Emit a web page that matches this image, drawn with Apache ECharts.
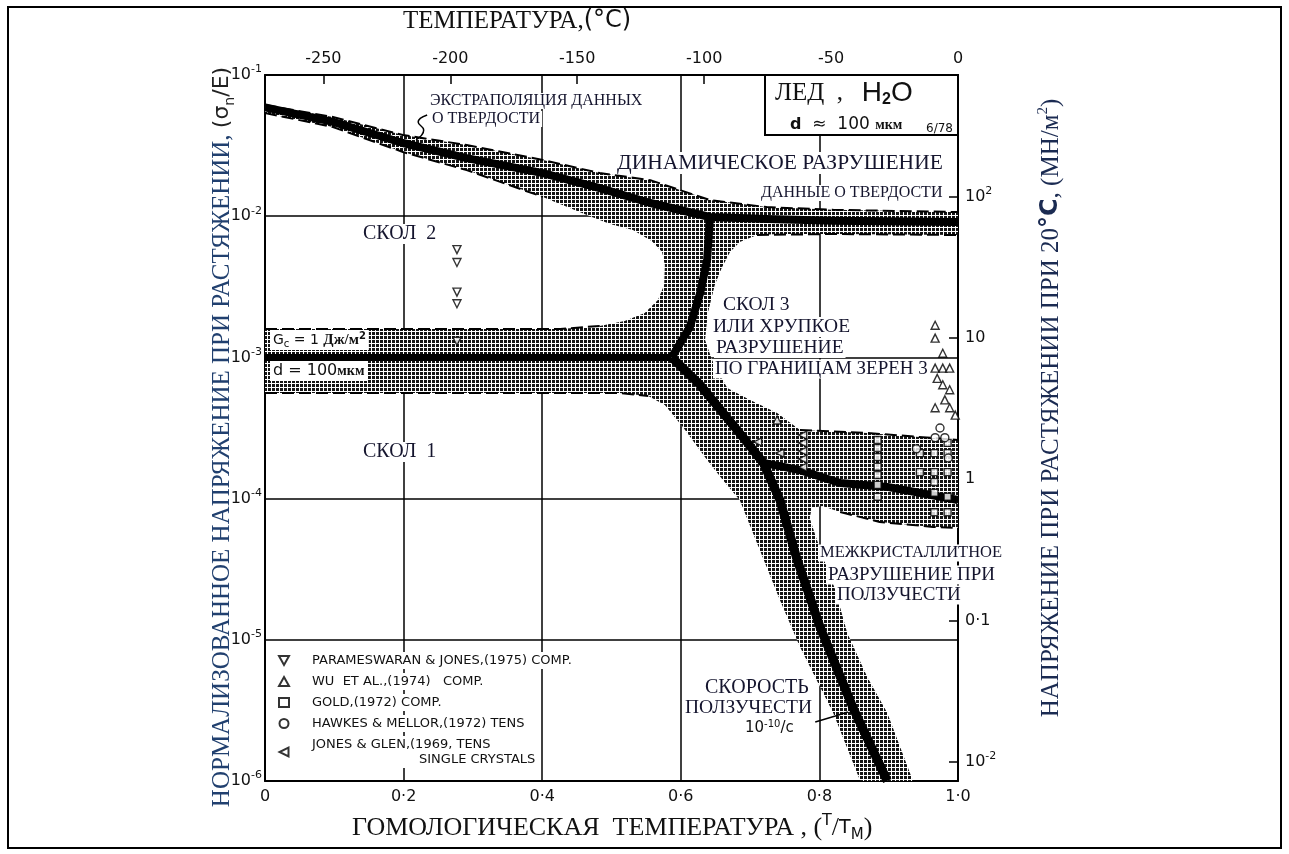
<!DOCTYPE html>
<html>
<head>
<meta charset="utf-8">
<script src="https://cdn.jsdelivr.net/npm/echarts@6/dist/echarts.min.js"></script>
<style>
  html, body { margin: 0; padding: 0; background: #fff; }
  #chart { width: 1289px; height: 854px; }
</style>
</head>
<body>
<div id="chart"></div>
<script>
// Fracture-mechanism map for ice (H2O), d ≈ 100 мкм.
// x: homologous temperature T/T_M, y: normalised tensile stress σn/E (log).

const MELTING_POINT_C = -273;          // top axis: T = 0 K at T/T_M = 0
const ICE_MODULUS = 7300;              // MN/m², converts σn/E to stress at 20 °C
const X_TICK_LABELS = ['0', '0·2', '0·4', '0·6', '0·8', '1·0'];
const TEMP_TICK_LABELS = ['-250', '-200', '-150', '-100', '-50', '0'];
const STRESS_TICK_LABELS = { '-2': '{n|10}{s|-2}', '-1': '{n|0·1}', '0': '{n|1}', '1': '{n|10}', '2': '{n|10}{s|2}' };

// Field boundaries (thick lines)
const DYNAMIC_LINE = [[0, 0.059], [0.098, 0.0465], [0.199, 0.033], [0.291, 0.0258], [0.401, 0.0202],
  [0.483, 0.0158], [0.556, 0.0124], [0.642, 0.00987], [0.724, 0.00955], [0.82, 0.0093], [1, 0.0091]];
const CLEAVAGE_1_2_LINE = [[0, 0.001], [0.587, 0.001]];
const CLEAVAGE_2_3_LINE = [[0.587, 0.001], [0.613, 0.00164], [0.628, 0.00286], [0.638, 0.0049], [0.642, 0.00987]];
const CREEP_LINE = [[0.587, 0.001], [0.628, 0.000637], [0.661, 0.000404], [0.693, 0.00026], [0.719, 0.000179],
  [0.743, 0.0000977], [0.768, 0.0000368], [0.801, 0.0000123], [0.848, 0.00000334], [0.898, 0.000001]];
const INTERGRANULAR_LINE = [[0.719, 0.000179], [0.772, 0.000159], [0.83, 0.000129], [0.898, 0.000121], [1, 0.0000977]];

// Outline of the shaded (uncertainty) bands around the boundaries
const BAND_OUTLINE = [
  [0, 0.0613], [0.098, 0.0504], [0.199, 0.0376], [0.291, 0.0319], [0.401, 0.025], [0.483, 0.0202],
  [0.556, 0.018], [0.599, 0.0153], [0.642, 0.013], [0.724, 0.0116], [0.82, 0.0111], [1, 0.0107],
  [1, 0.00736], [0.82, 0.00748], [0.743, 0.00748], [0.71, 0.00736], [0.685, 0.00657], [0.671, 0.00558],
  [0.659, 0.0043], [0.649, 0.00326], [0.639, 0.00206], [0.635, 0.00133], [0.645, 0.000959],
  [0.667, 0.000607], [0.7, 0.000499], [0.739, 0.000404], [0.772, 0.000306], [0.869, 0.000292], [1, 0.00026],
  [1, 0.0000619], [0.964, 0.000063], [0.887, 0.0000683], [0.83, 0.0000804], [0.804, 0.0000887],
  [0.789, 0.0000858], [0.786, 0.0000729], [0.794, 0.0000552], [0.804, 0.0000399], [0.823, 0.0000225],
  [0.84, 0.0000112], [0.869, 0.00000545], [0.898, 0.00000303], [0.935, 0.000001],
  [0.859, 0.000001], [0.82, 0.00000303], [0.772, 0.00000889], [0.743, 0.0000191], [0.714, 0.0000433],
  [0.685, 0.0000977], [0.661, 0.000135], [0.638, 0.000188], [0.603, 0.000321], [0.577, 0.00046],
  [0.553, 0.000533], [0.512, 0.00056], [0, 0.00056],
  [0, 0.00159], [0.426, 0.00159], [0.483, 0.00167], [0.519, 0.00181], [0.548, 0.00206], [0.567, 0.00255],
  [0.576, 0.00326], [0.577, 0.00451], [0.573, 0.00558], [0.558, 0.00667], [0.531, 0.00798], [0.498, 0.00881],
  [0.469, 0.01], [0.401, 0.0137], [0.291, 0.0212], [0.199, 0.0285], [0.098, 0.0428], [0, 0.0538]
];

// Dashed band edges
const DYNAMIC_UPPER_EDGE = BAND_OUTLINE.slice(0, 12);
const DYNAMIC_LOWER_EDGE_LEFT = [[0, 0.0538], [0.098, 0.0428], [0.199, 0.0285], [0.291, 0.0212], [0.401, 0.0137]];
const DYNAMIC_LOWER_EDGE_RIGHT = [[0.71, 0.00736], [0.82, 0.00748], [1, 0.00736]];
const CLEAVAGE_BAND_TOP = [[0, 0.00159], [0.426, 0.00159], [0.483, 0.00167]];
const CLEAVAGE_BAND_BOTTOM = [[0, 0.00056], [0.512, 0.00056], [0.553, 0.000533]];
const CREEP_BAND_TOP = [[0.772, 0.000306], [0.869, 0.000292], [1, 0.00026]];
const CREEP_BAND_BOTTOM = [[0.83, 0.0000804], [0.887, 0.0000683], [0.964, 0.000063], [1, 0.0000619]];

// Leader lines of the annotations
const HARDNESS_LEADER = [[0.234, 0.0521], [0.221, 0.0464], [0.229, 0.0408], [0.218, 0.0347]];
const CREEP_RATE_LEADER = [[0.794, 0.00000262], [0.823, 0.00000289], [0.841, 0.00000308]];

// Experimental data
const PARAMESWARAN_JONES = [[0.277, 0.0058], [0.277, 0.0047], [0.277, 0.0029], [0.277, 0.0024], [0.277, 0.0013]];
const WU_ET_AL = [[0.967, 0.00169], [0.967, 0.00137], [0.978, 0.00107], [0.967, 0.00084], [0.978, 0.00084],
  [0.988, 0.00084], [0.97, 0.00071], [0.978, 0.00064], [0.988, 0.00059], [0.981, 0.0005], [0.967, 0.00044],
  [0.988, 0.00044], [0.996, 0.00039], [0.739, 0.00036]];
const GOLD = [[0.884, 0.00026], [0.884, 0.000228], [0.884, 0.000197], [0.884, 0.000168], [0.884, 0.000147],
  [0.884, 0.000125], [0.884, 0.000103], [0.945, 0.00021], [0.945, 0.000154], [0.966, 0.00021], [0.966, 0.000154],
  [0.966, 0.000131], [0.966, 0.00011], [0.966, 0.00008], [0.985, 0.000248], [0.985, 0.00021], [0.985, 0.000154],
  [0.985, 0.000103], [0.985, 0.00008]];
const HAWKES_MELLOR = [[0.974, 0.000316], [0.967, 0.00027], [0.981, 0.00027], [0.94, 0.000225], [0.986, 0.000194]];
const JONES_GLEN = [[0.776, 0.000282], [0.776, 0.000248], [0.776, 0.000217], [0.776, 0.000191], [0.776, 0.000167],
  [0.711, 0.000252], [0.743, 0.00021]];

const SERIES_NAMES = ['PARAMESWARAN & JONES,(1975) COMP.', 'WU  ET AL.,(1974)   COMP.', 'GOLD,(1972) COMP.',
  'HAWKES & MELLOR,(1972) TENS', 'JONES & GLEN,(1969, TENS|SINGLE CRYSTALS'];

const SERIF = '"Liberation Serif", "DejaVu Serif", serif';
const SANS = '"DejaVu Sans", sans-serif';
const INK = '#15152e';

// Stipple texture of the bands: dark cells separated by thin white lines
function stipple() {
  const c = document.createElement('canvas');
  c.width = 4; c.height = 4;
  const g = c.getContext('2d');
  g.fillStyle = '#ffffff'; g.fillRect(0, 0, 4, 4);
  g.fillStyle = '#141414'; g.fillRect(0, 0, 3, 3);
  return c;
}
const STIPPLE = { image: stipple(), repeat: 'repeat' };

function boundary(data, width) {
  return { type: 'line', data, symbol: 'none', silent: true, z: 4,
    lineStyle: { color: '#000', width, cap: 'butt', join: 'round' } };
}
function dashedEdge(data) {
  return { type: 'line', data, symbol: 'none', silent: true, z: 3,
    lineStyle: { color: '#000', width: 2, type: [12, 5] } };
}
function dataset(name, data, symbol, size) {
  return { name, type: 'scatter', data, symbol, symbolSize: size, z: 6,
    itemStyle: { color: '#fff', borderColor: '#000', borderWidth: 1.4 } };
}
function note(text, x, y, size, extra) {
  return Object.assign({ type: 'text', x, y, z: 100,
    style: { text, font: size + 'px ' + SERIF, fill: INK, backgroundColor: '#fff', padding: [0, 2],
      verticalAlign: 'middle', align: 'left' } }, extra || {});
}

const chart = echarts.init(document.getElementById('chart'), null, { renderer: 'canvas' });

chart.setOption({
  animation: false,
  backgroundColor: '#fff',
  grid: { left: 265, top: 75, width: 693, height: 706, containLabel: false },
  xAxis: [
    { type: 'value', min: 0, max: 1, interval: 0.2, position: 'bottom',
      axisLine: { onZero: false, lineStyle: { color: '#000', width: 2 } },
      axisTick: { show: false },
      splitLine: { show: true, lineStyle: { color: '#000', width: 1.5 } },
      axisLabel: { color: '#111', fontFamily: SANS, fontSize: 16, margin: 8,
        formatter: v => X_TICK_LABELS[Math.round(v / 0.2)] } },
    { type: 'value', min: MELTING_POINT_C, max: 0, position: 'top',
      axisLine: { onZero: false, lineStyle: { color: '#000', width: 2 } },
      axisTick: { show: true, inside: true, length: 9, lineStyle: { color: '#000', width: 1.5 } },
      splitLine: { show: false },
      axisLabel: { color: '#111', fontFamily: SANS, fontSize: 16, margin: 8, showMinLabel: false,
        formatter: v => { const i = TEMP_TICK_LABELS.indexOf(String(Math.round(v))); return (i >= 0 && Math.abs(v % 50) < 1e-6) ? TEMP_TICK_LABELS[i] : ''; } } }
  ],
  yAxis: [
    { type: 'log', logBase: 10, min: 1e-6, max: 1e-1, position: 'left',
      axisLine: { lineStyle: { color: '#000', width: 2 } },
      axisTick: { show: false },
      splitLine: { show: true, lineStyle: { color: '#000', width: 1.5 } },
      axisLabel: { margin: 3, color: '#111',
        formatter: v => '{n|10}{s|' + Math.round(Math.log10(v)) + '}',
        rich: { n: { fontFamily: SANS, fontSize: 16, lineHeight: 22 },
                s: { fontFamily: SANS, fontSize: 11, verticalAlign: 'top', lineHeight: 12 } } } },
    { type: 'log', logBase: 10, min: 1e-6 * ICE_MODULUS, max: 1e-1 * ICE_MODULUS, position: 'right',
      axisLine: { lineStyle: { color: '#000', width: 2 } },
      axisTick: { show: true, inside: true, length: 9, lineStyle: { color: '#000', width: 1.5 } },
      splitLine: { show: false },
      axisLabel: { margin: 7, color: '#111', showMinLabel: false, showMaxLabel: false,
        formatter: v => { const e = Math.log10(v); const r = Math.round(e);
          return Math.abs(e - r) < 1e-6 && STRESS_TICK_LABELS[r] ? STRESS_TICK_LABELS[r] : ''; },
        rich: { n: { fontFamily: SANS, fontSize: 16, lineHeight: 22 },
                s: { fontFamily: SANS, fontSize: 11, verticalAlign: 'top', lineHeight: 12 } } } }
  ],
  legend: {
    orient: 'vertical', left: 273, top: 647, itemWidth: 10, itemHeight: 9, itemGap: 4,
    selectedMode: false, data: SERIES_NAMES,
    formatter: name => {
      const parts = name.split('|');
      return parts.length > 1 ? '{a|' + parts[0] + '}\n{b|' + parts[1] + '}' : '{a|' + name + '}';
    },
    textStyle: { color: '#111', fontFamily: SANS, fontSize: 13, backgroundColor: '#fff', padding: [1, 3, 1, 18],
      rich: { a: { fontFamily: SANS, fontSize: 13, lineHeight: 15 },
              b: { fontFamily: SANS, fontSize: 13, lineHeight: 15, padding: [0, 0, 0, 107] } } }
  },
  series: [
    { type: 'custom', coordinateSystem: 'cartesian2d', silent: true, z: 2, clip: true,
      data: [[0.5, 0.01]],
      renderItem: (params, api) => ({
        type: 'polygon',
        shape: { points: BAND_OUTLINE.map(p => api.coord(p)) },
        style: { fill: STIPPLE, stroke: null }
      }) },
    dashedEdge(DYNAMIC_UPPER_EDGE),
    dashedEdge(DYNAMIC_LOWER_EDGE_LEFT),
    dashedEdge(DYNAMIC_LOWER_EDGE_RIGHT),
    dashedEdge(CLEAVAGE_BAND_TOP),
    dashedEdge(CLEAVAGE_BAND_BOTTOM),
    dashedEdge(CREEP_BAND_TOP),
    dashedEdge(CREEP_BAND_BOTTOM),
    boundary(DYNAMIC_LINE, 8),
    boundary(CLEAVAGE_1_2_LINE, 7),
    boundary(CLEAVAGE_2_3_LINE, 8),
    boundary(CREEP_LINE, 9),
    boundary(INTERGRANULAR_LINE, 8),
    { type: 'line', data: HARDNESS_LEADER, smooth: true, symbol: 'none', silent: true, z: 5,
      lineStyle: { color: '#000', width: 1.5 } },
    { type: 'line', data: CREEP_RATE_LEADER, symbol: 'none', silent: true, z: 7,
      lineStyle: { color: '#000', width: 1.5 } },
    dataset(SERIES_NAMES[0], PARAMESWARAN_JONES, 'path://M0,0L10,0L5,9Z', 8),
    dataset(SERIES_NAMES[1], WU_ET_AL, 'triangle', 8),
    dataset(SERIES_NAMES[2], GOLD, 'rect', 7),
    dataset(SERIES_NAMES[3], HAWKES_MELLOR, 'circle', 8),
    dataset(SERIES_NAMES[4], JONES_GLEN, 'path://M10,0L10,10L0,5Z', 8)
  ],
  graphic: [
    // outer frame
    { type: 'rect', z: 100, shape: { x: 8, y: 7, width: 1273, height: 841 },
      style: { fill: null, stroke: '#000', lineWidth: 2 } },
    // titles
    { type: 'text', x: 403, y: 21, z: 100,
      style: { text: '{t|ТЕМПЕРАТУРА,}{s|(°C)}', verticalAlign: 'middle', fill: '#111',
        rich: { t: { font: '25px ' + SERIF, fill: '#111' }, s: { font: '24px ' + SANS, fill: '#111' } } } },
    { type: 'text', x: 352, y: 828, z: 100,
      style: { text: '{t|ГОМОЛОГИЧЕСКАЯ  ТЕМПЕРАТУРА , (}{sup|T}{t|/}{s|T}{sub|M}{t|)}', verticalAlign: 'middle',
        rich: { t: { font: '26px ' + SERIF, fill: '#111', lineHeight: 30 },
                s: { font: '19px ' + SANS, fill: '#111', lineHeight: 30 },
                sup: { font: '16px ' + SANS, fill: '#111', verticalAlign: 'top', lineHeight: 14 },
                sub: { font: '15px ' + SANS, fill: '#111', verticalAlign: 'bottom', lineHeight: 14 } } } },
    { type: 'text', x: 222, y: 437, rotation: Math.PI / 2, z: 100,
      style: { text: '{t|НОРМАЛИЗОВАННОЕ НАПРЯЖЕНИЕ ПРИ РАСТЯЖЕНИИ, }{p|(σ}{sub|n}{p|/E)}',
        align: 'center', verticalAlign: 'middle',
        rich: { t: { font: '25px ' + SERIF, fill: '#21406f', lineHeight: 30 },
                p: { font: '22px ' + SANS, fill: '#222', lineHeight: 30 },
                sub: { font: '14px ' + SANS, fill: '#222', verticalAlign: 'bottom', lineHeight: 16 } } } },
    { type: 'text', x: 1051, y: 408, rotation: Math.PI / 2, z: 100,
      style: { text: '{t|НАПРЯЖЕНИЕ ПРИ РАСТЯЖЕНИИ ПРИ 20}{b|°C}{t|, (МН/м}{sup|2}{t|)}',
        align: 'center', verticalAlign: 'middle',
        rich: { t: { font: '25px ' + SERIF, fill: '#1b2b52', lineHeight: 30 },
                b: { font: 'bold 24px ' + SANS, fill: '#1b2b52', lineHeight: 30 },
                sup: { font: '15px ' + SERIF, fill: '#1b2b52', verticalAlign: 'top', lineHeight: 12 } } } },
    // material box
    { type: 'rect', z: 99, shape: { x: 765, y: 75, width: 193, height: 60 },
      style: { fill: '#fff', stroke: '#000', lineWidth: 2 } },
    { type: 'text', x: 775, y: 93, z: 100,
      style: { text: '{a|ЛЕД  ,   }{b|H}{c|2}{b|O}', verticalAlign: 'middle',
        rich: { a: { font: '25px ' + SERIF, fill: '#111', lineHeight: 30 },
                b: { font: '28px "Liberation Sans", sans-serif', fill: '#111', lineHeight: 30 },
                c: { font: 'bold 16px "Liberation Sans", sans-serif', fill: '#111', verticalAlign: 'bottom', lineHeight: 14 } } } },
    { type: 'text', x: 790, y: 125, z: 100,
      style: { text: '{d|d}{a|  ≈  100 }{m|мкм}', verticalAlign: 'middle',
        rich: { d: { font: 'bold 16px ' + SANS, fill: '#111' }, a: { font: '17px ' + SANS, fill: '#111' },
                m: { font: 'bold 14px ' + SERIF, fill: '#111' } } } },
    { type: 'text', x: 926, y: 129, z: 100,
      style: { text: '6/78', font: '12px ' + SANS, fill: '#111', verticalAlign: 'middle' } },
    // field annotations
    note('ЭКСТРАПОЛЯЦИЯ ДАННЫХ', 428, 101, 16),
    note('О ТВЕРДОСТИ', 430, 119, 16),
    note('ДИНАМИЧЕСКОЕ РАЗРУШЕНИЕ', 615, 163, 21.5),
    note('ДАННЫЕ О ТВЕРДОСТИ', 759, 193, 16),
    note('СКОЛ  2', 361, 234, 20),
    note('СКОЛ 3', 721, 305, 19.5),
    note('ИЛИ ХРУПКОЕ', 711, 327, 19.5),
    note('РАЗРУШЕНИЕ', 714, 348, 19.5),
    note('ПО ГРАНИЦАМ ЗЕРЕН 3', 713, 369, 19),
    note('СКОЛ  1', 361, 452, 20),
    note('МЕЖКРИСТАЛЛИТНОЕ', 818, 553, 16.5),
    note('РАЗРУШЕНИЕ ПРИ', 826, 575, 19),
    note('ПОЛЗУЧЕСТИ', 835, 595, 19),
    note('СКОРОСТЬ', 703, 688, 20),
    note('ПОЛЗУЧЕСТИ', 683, 708, 19.5),
    { type: 'text', x: 745, y: 728, z: 100,
      style: { text: '{a|10}{s|-10}{a|/с}', verticalAlign: 'middle', backgroundColor: '#fff',
        rich: { a: { font: '15px ' + SANS, fill: '#111', lineHeight: 18 },
                s: { font: '10px ' + SANS, fill: '#111', verticalAlign: 'top', lineHeight: 10 } } } },
    { type: 'text', x: 270, y: 340, z: 100,
      style: { text: '{s|G}{sub|c}{s| = 1 }{r|Дж/м}{sup|2}', verticalAlign: 'middle', backgroundColor: '#fff',
        padding: [1, 3],
        rich: { s: { font: '14px ' + SANS, fill: '#111', lineHeight: 18 },
                sub: { font: '10px ' + SANS, fill: '#111', verticalAlign: 'bottom', lineHeight: 10 },
                r: { font: 'bold 15px ' + SERIF, fill: '#111', lineHeight: 18 },
                sup: { font: 'bold 10px ' + SANS, fill: '#111', verticalAlign: 'top', lineHeight: 10 } } } },
    { type: 'text', x: 270, y: 371, z: 100,
      style: { text: '{s|d = 100}{r|мкм}', verticalAlign: 'middle', backgroundColor: '#fff', padding: [1, 3],
        rich: { s: { font: '16px ' + SANS, fill: '#111', lineHeight: 18 },
                r: { font: 'bold 14px ' + SERIF, fill: '#111', lineHeight: 18 } } } }
  ]
});
</script>
</body>
</html>
